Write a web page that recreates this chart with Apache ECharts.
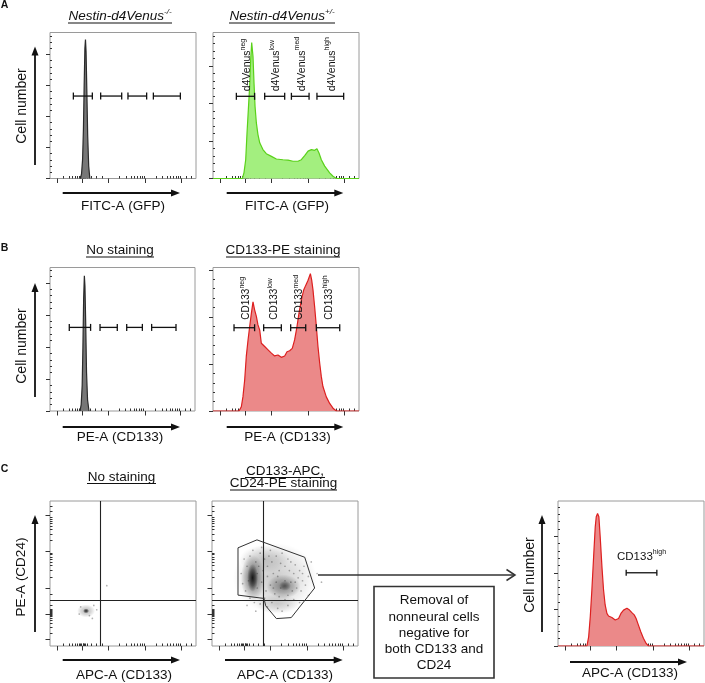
<!DOCTYPE html>
<html><head><meta charset="utf-8">
<script src="https://cdn.jsdelivr.net/npm/echarts@6/dist/echarts.min.js"></script>
<style>html,body{margin:0;padding:0;background:#fff}#c{width:705px;height:683px}</style>
</head><body><div id="c"></div>
<script>
const FONT = '"Liberation Sans", Arial, Helvetica, sans-serif';

// ---- tick positions on the biexponential display scale (0-100 display units) ----
const biexMajorTicks = [5, 22, 40, 65.5, 90];
const biexMinorTicks = [9, 13, 15.5, 17.5, 19, 20.3, 21, 21.6, 22.5, 23.1, 23.7, 24.4, 25.6, 28, 31.5, 35.5,
  47.7, 52.2, 55.4, 57.8, 59.8, 61.5, 63, 64.3, 72.9, 77.2, 80.2, 82.6, 84.6, 86.2, 87.6, 88.9, 93, 96.5];

// ---- Panel A: Nestin-d4Venus ----
const aNegX = [20.8, 21.6, 22.3, 22.9, 23.4, 23.9, 24.3, 24.7, 25.2, 25.8, 26.5, 27.3];
const aNegY = [0, 0.15, 0.6, 1.6, 3.0, 4.2, 4.48, 4.1, 2.9, 1.4, 0.4, 0];
const aPosX = [0, 20.1, 21.2, 22.4, 23.3, 24.2, 25.1, 25.8, 26.5, 27.4, 28.1, 28.8, 29.7, 30.8, 32.0, 34.2, 36.5, 40.0, 43.4, 47.9, 51.4, 54.8, 58.2, 60.5, 62.8, 65.1, 67.4, 69.6, 71.2, 72.6, 74.2, 76.5, 79.9, 82.2, 84.5, 100];
const aPosY = [0, 0, 0.15, 0.50, 1.21, 1.83, 2.45, 3.16, 3.62, 3.25, 2.54, 1.92, 1.48, 1.17, 0.95, 0.77, 0.66, 0.59, 0.52, 0.50, 0.49, 0.46, 0.46, 0.50, 0.61, 0.73, 0.77, 0.75, 0.79, 0.68, 0.50, 0.33, 0.15, 0.06, 0, 0];
const aNegGates = [[16.0, 29.0, 2.66], [34.7, 49.1, 2.66], [53.4, 66.2, 2.66], [70.8, 89.3, 2.66]];
const aPosGates = [[16.0, 28.5, 2.19], [35.4, 49.1, 2.19], [53.7, 65.8, 2.19], [71.2, 89.5, 2.19]];
const aGateLabels = [['d4Venus', 'neg'], ['d4Venus', 'low'], ['d4Venus', 'med'], ['d4Venus', 'high']];

// ---- Panel B: CD133-PE ----
const bNoneX = [20.7, 21.5, 22.2, 22.7, 23.2, 23.7, 24.1, 24.6, 25.2, 25.9, 26.9];
const bNoneY = [0, 0.2, 0.8, 2.0, 3.5, 4.22, 3.9, 2.8, 1.2, 0.35, 0];
const bPeX = [0, 17.8, 19.4, 20.5, 21.7, 22.8, 24.0, 25.1, 26.3, 27.4, 28.5, 29.7, 30.8, 32.0, 33.1, 34.2, 35.4, 37.7, 40.0, 42.2, 44.5, 46.8, 47.9, 49.1, 50.7, 52.5, 54.3, 55.9, 57.5, 58.9, 60.5, 62.1, 63.5, 65.1, 66.7, 67.6, 68.5, 69.6, 70.8, 71.9, 73.1, 74.2, 75.3, 77.6, 79.9, 82.2, 84.5, 100];
const bPeY = [0, 0, 0.09, 0.30, 0.66, 1.16, 1.51, 1.79, 2.08, 2.32, 2.15, 2.01, 1.83, 1.72, 1.44, 1.45, 1.37, 1.30, 1.23, 1.17, 1.19, 1.14, 1.10, 1.17, 1.26, 1.28, 1.33, 1.51, 1.79, 2.08, 2.36, 2.57, 2.67, 2.78, 2.92, 2.78, 2.57, 2.22, 1.79, 1.37, 1.01, 0.73, 0.52, 0.30, 0.16, 0.06, 0, 0];
const bNoneGates = [[13.3, 28.0, 2.61], [34.5, 46.4, 2.61], [52.9, 63.7, 2.61], [70.1, 86.9, 2.61]];
const bPeGates = [[14.4, 28.5, 1.77], [34.7, 46.8, 1.77], [53.2, 63.5, 1.77], [70.8, 86.8, 1.77]];
const bGateLabels = [['CD133', 'neg'], ['CD133', 'low'], ['CD133', 'med'], ['CD133', 'high']];

// ---- Panel C: CD133-APC / CD24-PE ----
const cNoneQuad = [34.2, 31.7];
const cStainQuad = [35.2, 31.7];
const cNoneBlobs = [[24.7, 24.2, 18, 13, 0.35], [24.7, 24.2, 6, 5, 1.0]];
const cNoneDots = [[30, 28], [27, 21], [21, 27], [38.9, 41.6], [29, 19], [20, 22], [32, 25]];
const cStainBlobs = [[43, 47, 84, 70, 0.26], [36, 60, 50, 28, 0.2], [45, 29, 44, 20, 0.2], [28, 47, 24, 46, 0.6], [27.8, 47, 11, 28, 1.0], [49, 41, 34, 24, 0.5], [50, 41.5, 12, 10, 0.5]];
const cStainDots = [[22, 60], [24, 55], [26, 62], [30, 58], [33, 64], [36, 60], [38, 55], [41, 58], [44, 62], [47, 57], [50, 55], [53, 52], [56, 50], [59, 47], [62, 45], [60, 52], [57, 56], [52, 60], [48, 64], [40, 66], [34, 68], [28, 66], [20, 50], [21, 43], [23, 38], [31, 40], [34, 44], [37, 38], [40, 42], [43, 36], [46, 34], [52, 35], [55, 38], [58, 40], [61, 38], [64, 42], [66, 48], [63, 55], [45, 48], [42, 50], [38, 48], [35, 52], [31, 50], [50, 45], [54, 44], [47, 40], [44, 44], [41, 30], [45, 26], [48, 24], [52, 28], [38, 27], [33, 29], [29, 30], [26, 33], [56, 32], [60, 30], [72, 50], [75, 44], [68, 58], [24, 28], [30, 24], [66, 35], [25, 45], [32, 55], [39, 62], [46, 52], [57, 44], [62, 50], [42, 40], [36, 33], [50, 32], [54, 58]];
const cGatePolyX = [17.8, 30.8, 63.5, 70.3, 54.3, 44.1, 36.8, 35.6, 17.8, 17.8];
const cGatePolyY = [67.7, 73.2, 61.2, 40.0, 19.6, 18.9, 27.7, 32.8, 35.1, 67.7];
const cGatedX = [0, 19.8, 21.0, 22.1, 23.2, 24.4, 25.5, 26.2, 27.1, 28.0, 28.9, 30.1, 31.2, 32.3, 33.5, 34.6, 36.9, 39.2, 41.5, 43.1, 44.9, 47.2, 49.0, 50.6, 52.2, 53.5, 55.1, 56.7, 58.5, 60.4, 62.0, 100];
const cGatedY = [0, 0, 0.25, 0.80, 1.53, 2.44, 3.25, 3.53, 3.62, 3.53, 2.98, 2.16, 1.53, 1.12, 0.89, 0.82, 0.78, 0.71, 0.75, 0.89, 0.98, 1.03, 0.98, 0.91, 0.85, 0.75, 0.57, 0.39, 0.21, 0.07, 0, 0];
const cGatedGate = [[46.7, 67.7, 2.0]];
const cGatedLabel = [['CD133', 'high']];

// ---------------------------------------------------------------
const panels = [
  { box: { left: 50, top: 32.5, width: 146, height: 146 }, yMax: 4.71 },
  { box: { left: 213, top: 32.5, width: 146, height: 146 }, yMax: 3.89 },
  { box: { left: 50, top: 267.5, width: 145, height: 143.5 }, yMax: 4.48 },
  { box: { left: 213, top: 267.5, width: 146, height: 143.5 }, yMax: 3.05 },
  { box: { left: 50, top: 501, width: 146, height: 145 }, biex: true },
  { box: { left: 212, top: 501, width: 146, height: 145 }, biex: true },
  { box: { left: 558, top: 501, width: 146, height: 145 }, yMax: 3.96 }
];

function axisCfg(gi, ticks, len, min, max) {
  return { type: 'value', gridIndex: gi, min: min, max: max,
    axisLine: { show: false }, axisLabel: { show: false }, splitLine: { show: false },
    axisTick: { show: true, customValues: ticks, length: len, lineStyle: { color: '#333', width: 1 } } };
}
const grid = [], xAxis = [], yAxis = [];
panels.forEach((p, i) => {
  grid.push(Object.assign({ show: true, borderColor: '#9a9a9a', borderWidth: 1, backgroundColor: 'transparent' }, p.box));
  xAxis.push(axisCfg(i, biexMajorTicks, 4.5, 0, 100));
  xAxis.push(axisCfg(i, biexMinorTicks, 2.5, 0, 100));
  if (p.biex) {
    yAxis.push(axisCfg(i, biexMajorTicks, 4.5, 0, 100));
    yAxis.push(axisCfg(i, biexMinorTicks, 2.5, 0, 100));
  } else {
    const maj = [], mnr = [];
    for (let k = 0; k <= p.yMax; k++) maj.push(k);
    for (let k = 1; k * 0.2 < p.yMax; k++) if (k % 5) mnr.push(+(k * 0.2).toFixed(2));
    yAxis.push(axisCfg(i, maj, 4, 0, p.yMax));
    yAxis.push(axisCfg(i, mnr, 2, 0, p.yMax));
  }
});

const pairs = (xs, ys) => xs.map((x, k) => [x, ys[k]]);
function hist(i, xs, ys, line, fill) {
  return { type: 'line', xAxisIndex: 2 * i, yAxisIndex: 2 * i, data: pairs(xs, ys), showSymbol: false, symbol: 'none',
    lineStyle: { color: line, width: 1.2 }, areaStyle: { color: fill, opacity: 1 }, silent: true, z: 2 };
}
function rich(fs, sfs, italic) {
  return {
    m: { fontSize: fs, fontFamily: FONT, fill: '#111', lineHeight: fs + 5, fontStyle: italic ? 'italic' : 'normal' },
    s: { fontSize: sfs, fontFamily: FONT, fill: '#111', lineHeight: sfs, verticalAlign: 'top', fontStyle: italic ? 'italic' : 'normal' }
  };
}
function gates(i, data, labels, opt) {
  return { type: 'custom', xAxisIndex: 2 * i, yAxisIndex: 2 * i, data: data, encode: { x: [0, 1], y: 2 }, silent: true, z: 6,
    renderItem: function (params, api) {
      const p1 = api.coord([api.value(0), api.value(2)]);
      const p2 = api.coord([api.value(1), api.value(2)]);
      const st = { stroke: '#111', lineWidth: 1.3 };
      const ch = [
        { type: 'line', shape: { x1: p1[0], y1: p1[1], x2: p2[0], y2: p2[1] }, style: st },
        { type: 'line', shape: { x1: p1[0], y1: p1[1] - opt.cap, x2: p1[0], y2: p1[1] + opt.cap }, style: st },
        { type: 'line', shape: { x1: p2[0], y1: p2[1] - opt.cap, x2: p2[0], y2: p2[1] + opt.cap }, style: st }
      ];
      if (labels) {
        const lab = labels[params.dataIndex];
        const cx = (p1[0] + p2[0]) / 2;
        if (opt.vertical) {
          ch.push({ type: 'text', x: cx + 1.5, y: p1[1] - opt.gap, rotation: Math.PI / 2,
            style: { text: '{m|' + lab[0] + '}{s|' + lab[1] + '}', rich: rich(opt.fs, opt.sfs), align: 'left', verticalAlign: 'middle', fill: '#111' } });
        } else {
          ch.push({ type: 'text', x: cx, y: p1[1] - opt.gap,
            style: { text: '{m|' + lab[0] + '}{s|' + lab[1] + '}', rich: rich(opt.fs, opt.sfs), align: 'center', verticalAlign: 'middle', fill: '#111' } });
        }
      }
      return { type: 'group', children: ch };
    } };
}
function radial(a) {
  return { type: 'radial', x: 0.5, y: 0.5, r: 0.5, colorStops: [
    { offset: 0, color: 'rgba(0,0,0,' + a + ')' }, { offset: 0.55, color: 'rgba(0,0,0,' + (a * 0.55) + ')' }, { offset: 1, color: 'rgba(0,0,0,0)' }] };
}
function blobs(i, arr) {
  return { type: 'scatter', xAxisIndex: 2 * i, yAxisIndex: 2 * i, silent: true, z: 2,
    data: arr.map(b => ({ value: [b[0], b[1]], symbolSize: [b[2], b[3]], itemStyle: { color: radial(b[4]) } })) };
}
function dots(i, arr, quad) {
  const s = { type: 'scatter', xAxisIndex: 2 * i, yAxisIndex: 2 * i, silent: true, z: 3, data: arr, symbolSize: 1.7,
    itemStyle: { color: 'rgba(40,40,40,0.45)' } };
  if (quad) s.markLine = { silent: true, symbol: 'none', label: { show: false }, animation: false,
    lineStyle: { color: '#222', width: 1.1, type: 'solid' }, data: [{ xAxis: quad[0] }, { yAxis: quad[1] }] };
  return s;
}

const series = [
  hist(0, aNegX, aNegY, '#2a2a2a', '#777777'),
  gates(0, aNegGates, null, { cap: 3.5 }),
  hist(1, aPosX, aPosY, '#5ad11a', '#a3ef7f'),
  gates(1, aPosGates, aGateLabels, { cap: 3.5, vertical: true, gap: 5, fs: 10.5, sfs: 7 }),
  hist(2, bNoneX, bNoneY, '#2a2a2a', '#777777'),
  gates(2, bNoneGates, null, { cap: 3.5 }),
  hist(3, bPeX, bPeY, '#dd1f1f', '#eb8989'),
  gates(3, bPeGates, bGateLabels, { cap: 3.5, vertical: true, gap: 8, fs: 10, sfs: 7 }),
  blobs(4, cNoneBlobs),
  dots(4, cNoneDots, cNoneQuad),
  blobs(5, cStainBlobs),
  dots(5, cStainDots, cStainQuad),
  { type: 'line', xAxisIndex: 10, yAxisIndex: 10, data: pairs(cGatePolyX, cGatePolyY), showSymbol: false, symbol: 'none',
    lineStyle: { color: '#333', width: 1 }, silent: true, z: 5 },
  hist(6, cGatedX, cGatedY, '#dd1f1f', '#eb8989'),
  gates(6, cGatedGate, cGatedLabel, { cap: 3, gap: 16, fs: 11.5, sfs: 7 })
];

// ---- decorations: titles, axis names, arrows, letters ----
const G = [];
function txt(x, y, text, o) {
  o = o || {};
  G.push({ type: 'text', x: x, y: y, rotation: o.rot || 0, z: 20,
    style: { text: text, fill: '#111', align: 'center', verticalAlign: 'middle', fontFamily: FONT,
      fontSize: o.fs || 13.5, fontWeight: o.bold ? 'bold' : 'normal', rich: o.rich } });
}
function uline(x1, x2, y) { G.push({ type: 'line', z: 20, shape: { x1: x1, y1: y, x2: x2, y2: y }, style: { stroke: '#111', lineWidth: 1.1 } }); }
function hArrow(x1, x2, y) {
  G.push({ type: 'line', z: 20, shape: { x1: x1, y1: y, x2: x2 - 6, y2: y }, style: { stroke: '#111', lineWidth: 1.8 } });
  G.push({ type: 'polygon', z: 20, shape: { points: [[x2, y], [x2 - 9, y - 3.5], [x2 - 9, y + 3.5]] }, style: { fill: '#111' } });
}
function vArrow(x, yb, yt) {
  G.push({ type: 'line', z: 20, shape: { x1: x, y1: yb, x2: x, y2: yt + 6 }, style: { stroke: '#111', lineWidth: 1.8 } });
  G.push({ type: 'polygon', z: 20, shape: { points: [[x, yt], [x - 3.5, yt + 9], [x + 3.5, yt + 9]] }, style: { fill: '#111' } });
}
const titleRich = rich(13.5, 8, true);
titleRich.m.lineHeight = 17;

// letters
txt(4.5, 5.5, 'A', { fs: 10.5, bold: true });
txt(4.5, 248.5, 'B', { fs: 10.5, bold: true });
txt(4.5, 468.7, 'C', { fs: 10.5, bold: true });
// titles
txt(120, 16, '{m|Nestin-d4Venus}{s|-/-}', { rich: titleRich }); uline(68, 172, 23);
txt(282, 16, '{m|Nestin-d4Venus}{s|+/-}', { rich: titleRich }); uline(229, 335, 23);
txt(120, 250.5, 'No staining'); uline(86, 154, 257);
txt(283, 250.5, 'CD133-PE staining'); uline(226, 340, 257);
txt(121.5, 477, 'No staining'); uline(87, 156, 483.5);
txt(285, 471, 'CD133-APC,'); uline(245, 325, 477.5);
txt(283.5, 483, 'CD24-PE staining'); uline(230, 337, 490);
// y names
txt(21.7, 106, 'Cell number', { rot: Math.PI / 2, fs: 14 });
txt(21.7, 346, 'Cell number', { rot: Math.PI / 2, fs: 14 });
txt(21.7, 577, 'PE-A (CD24)', { rot: Math.PI / 2 });
txt(530, 575, 'Cell number', { rot: Math.PI / 2, fs: 14 });
vArrow(35, 165, 46.5); vArrow(35, 397, 283); vArrow(35, 632, 515); vArrow(542, 632, 515);
// x names
hArrow(62.7, 180, 193); hArrow(226.7, 343.3, 193);
hArrow(62.7, 180, 427); hArrow(226.7, 343.3, 427);
hArrow(62.7, 180, 660); hArrow(225, 342.7, 660); hArrow(570, 687, 662);
txt(123, 206, 'FITC-A (GFP)'); txt(287, 206, 'FITC-A (GFP)');
txt(120, 437.5, 'PE-A (CD133)'); txt(287.5, 437.5, 'PE-A (CD133)');
txt(124, 675, 'APC-A (CD133)'); txt(285, 675, 'APC-A (CD133)'); txt(630, 673, 'APC-A (CD133)');
// gating arrow and note box
G.push({ type: 'line', z: 20, shape: { x1: 318, y1: 575, x2: 514, y2: 575 }, style: { stroke: '#333', lineWidth: 1.5 } });
G.push({ type: 'polyline', z: 20, shape: { points: [[506.5, 569.5], [515, 575], [506.5, 580.5]] }, style: { stroke: '#333', lineWidth: 1.5, fill: null } });
G.push({ type: 'rect', z: 20, shape: { x: 374, y: 586.5, width: 120, height: 91.5 }, style: { stroke: '#333', lineWidth: 1.6, fill: null } });
['Removal of', 'nonneural cells', 'negative for', 'both CD133 and', 'CD24'].forEach((t, k) => txt(434, 600.7 + k * 16.1, t));

const chart = echarts.init(document.getElementById('c'), null, { renderer: 'canvas', width: 705, height: 683 });
chart.setOption({ animation: false, backgroundColor: '#fff', grid: grid, xAxis: xAxis, yAxis: yAxis, series: series, graphic: { elements: G } });
</script></body></html>
